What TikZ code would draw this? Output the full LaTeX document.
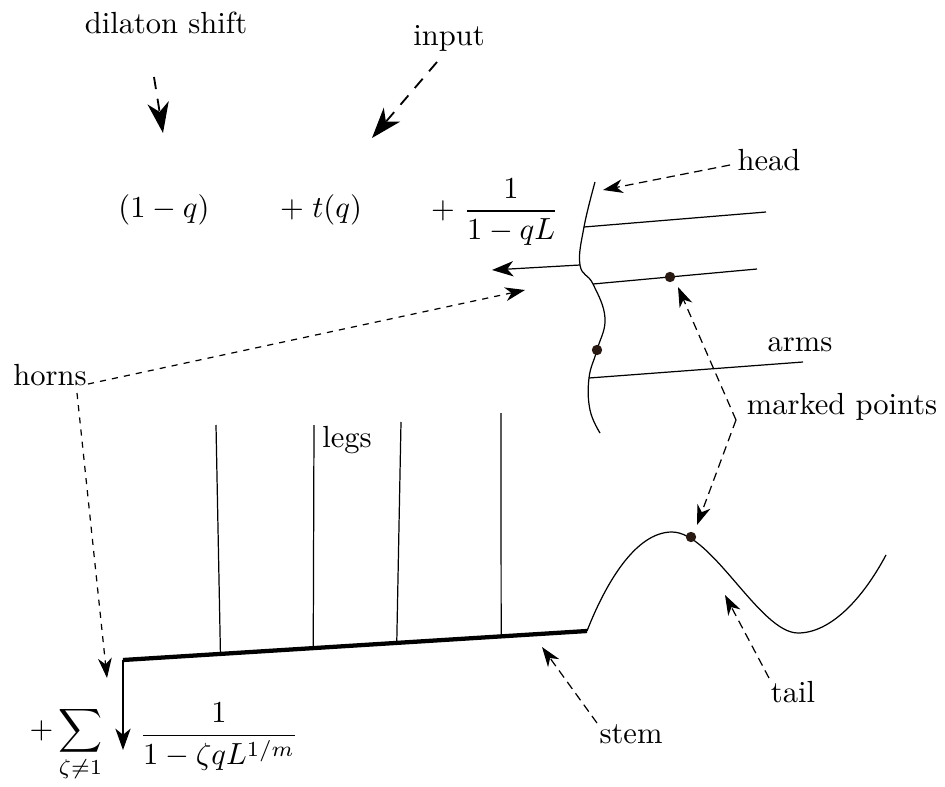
\documentclass[tikz,border=0pt]{standalone}
\usepackage{tikz}
\usetikzlibrary{arrows.meta,calc}
\definecolor{dotbrown}{RGB}{40,26,18}
\tikzset{
  lbl/.style={inner sep=0pt, align=center},
  note/.style={-{Stealth[length=6.5pt,width=4.5pt,inset=2pt]}, dash pattern=on 2.8pt off 1.8pt},
  bignote/.style={-{Stealth[length=10pt,width=7pt,inset=3pt]}, semithick, dash pattern=on 4pt off 3.2pt},
  hornline/.style={-{Stealth[length=6.5pt,width=4.5pt,inset=2pt]}, dash pattern=on 2pt off 2pt},
  flow/.style={-{Stealth[length=7pt,width=5pt,inset=2pt]}},
  stemline/.style={line width=1.4pt},
  markdot/.style={circle, fill=dotbrown, inner sep=0pt, minimum size=3.4pt}
}
\begin{document}
\begin{tikzpicture}[x=0.0115cm,y=-0.0115cm]
  \useasboundingbox (0,0) rectangle (945,787);
  % labels
  \node[lbl] (dilaton) at (166,23) {dilaton shift};
  \node[lbl] (input) at (449,38) {input};
  \node[lbl] (headlbl) at (769,160) {head};
  \node[lbl] (armslbl) at (800,345) {arms};
  \node[lbl] (marked) at (842,407) {marked points};
  \node[lbl] (horns) at (50,375) {horns};
  \node[lbl] (legslbl) at (347,440) {legs};
  \node[lbl] (stemlbl) at (631,734) {stem};
  \node[lbl] (taillbl) at (793,692) {tail};
  % series terms
  \node[lbl] (oneminusq) at (164,210) {$(1-q)$};
  \node[lbl] (tq) at (321,210) {$+\;t(q)$};
  \node[lbl] (geom) at (495,212) {$\displaystyle+\;\frac{1}{1-qL}$};
  \node[lbl] (sumsign) at (66,744) {$\displaystyle+\sum_{\zeta\neq 1}$};
  \node[lbl] (sumfrac) at (219,737) {$\displaystyle\frac{1}{1-\zeta qL^{1/m}}$};
  % head with arms
  \coordinate (c0) at (595,182);
  \coordinate (j1) at (584,227);
  \coordinate (j0) at (580,265);
  \coordinate (j2) at (593,284);
  \coordinate (j3) at (589,378);
  \coordinate (c9) at (600,433);
  \draw plot[smooth, tension=0.7] coordinates {(c0) (j1) (j0) (j2) (605,318) (597,350) (j3) (590,410) (c9)};
  \coordinate (a1) at (766,212);
  \coordinate (a2) at (757,269);
  \coordinate (a3) at (803,362);
  \draw (j1) -- (a1);
  \draw (j2) -- (a2);
  \draw (j3) -- (a3);
  \node[markdot] (pt1) at (670,277) {};
  \node[markdot] (pt2) at (597,350) {};
  \coordinate (out) at (492,270);
  \draw[flow] (j0) -- (out);
  % stem, legs, tail
  \coordinate (s0) at (123,660);
  \coordinate (s1) at (587,631);
  \draw[stemline] (s0) -- (s1);
  \foreach \xt/\yt/\t in {216/425/0.21, 314/425/0.41, 401/422/0.59, 501/413/0.815}
    \draw (\xt,\yt) -- ($(s0)!\t!(s1)$);
  \coordinate (sumend) at (123,750);
  \draw[flow] (s0) -- (sumend);
  \draw (s1) .. controls (605,585) and (635,532) .. (672,532)
             .. controls (712,532) and (760,633) .. (798,633)
             .. controls (830,633) and (862,600) .. (886,555);
  \node[markdot] (pt3) at (691,537) {};
  % annotations
  \coordinate (d0) at (154,77);
  \coordinate (d1) at (163,133);
  \draw[bignote] (d0) -- (d1);
  \coordinate (i0) at (437,62);
  \coordinate (i1) at (372,138);
  \draw[bignote] (i0) -- (i1);
  \coordinate (hd0) at (730,165);
  \coordinate (hd1) at (603,190);
  \draw[note] (hd0) -- (hd1);
  \coordinate (mk) at (736,420);
  \draw[note] (mk) -- (678,287);
  \draw[note] (mk) -- (697,525);
  \coordinate (hs) at (88,384);
  \coordinate (hv) at (77,393);
  \coordinate (ht1) at (525,290);
  \coordinate (ht2) at (107,678);
  \draw[hornline] (hs) -- (ht1);
  \draw[hornline] (hv) -- (ht2);
  \coordinate (st0) at (597,723);
  \coordinate (st1) at (542,647);
  \draw[note] (st0) -- (st1);
  \coordinate (tl0) at (769,678);
  \coordinate (tl1) at (725,595);
  \draw[note] (tl0) -- (tl1);
\end{tikzpicture}
\end{document}
